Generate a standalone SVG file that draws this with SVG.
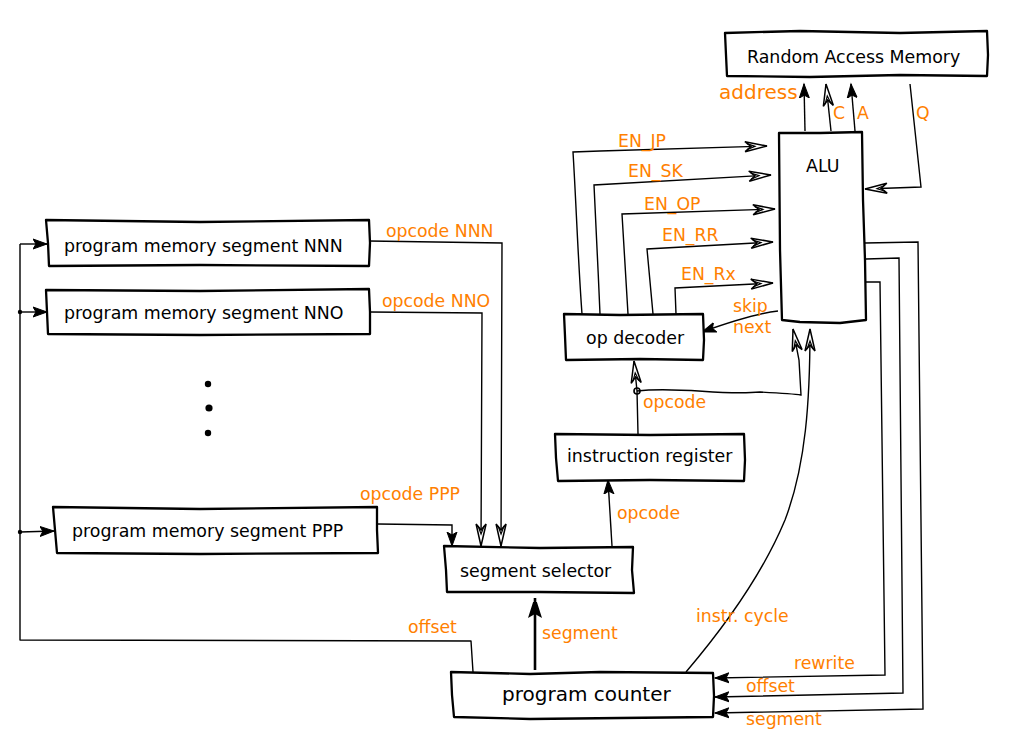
<svg xmlns="http://www.w3.org/2000/svg" width="1024" height="748" viewBox="0 0 1024 748">
<style>
.box{fill:#fff;stroke:#000;stroke-width:2.3;stroke-linejoin:round}
.t{font-family:"DejaVu Sans",sans-serif;font-size:17.4px;fill:#000}
.lbl{font-family:"DejaVu Sans",sans-serif;font-size:17.3px;fill:#ff8000}
.w{fill:none;stroke:#000;stroke-width:1.4;stroke-linejoin:round}
.wf{fill:none;stroke:#000;stroke-width:1.4;marker-end:url(#af)}
.wh{fill:none;stroke:#000;stroke-width:1.4;marker-end:url(#ah)}
</style>
<defs>
<marker id="af" markerUnits="userSpaceOnUse" markerWidth="16" markerHeight="12" refX="14" refY="6" orient="auto">
<path d="M0,1 L14,6 L0,11 L3,6 Z" fill="#000" stroke="#000" stroke-width="1"/>
</marker>
<marker id="ah" markerUnits="userSpaceOnUse" markerWidth="26" markerHeight="14" refX="24" refY="7" orient="auto">
<path d="M2,2 L24,7 L2,12 L8,7 Z" fill="#fff" stroke="#000" stroke-width="1.5"/>
<path d="M4,4 L12,7 L4,10" fill="none" stroke="#000" stroke-width="1.2"/>
</marker>
<marker id="ab" markerUnits="userSpaceOnUse" markerWidth="16" markerHeight="24" refX="20" refY="8" orient="auto">
<path d="M0,1 L22,8 L0,15 L4,8 Z" fill="#000"/>
</marker>
</defs>

<g id="connectors">
<path class="w" d="M473,672 L471,641 L20,640 L20,244"/>
<path class="wf" d="M20,244 L47,244"/>
<path class="wf" d="M20,312 L47,312"/>
<path class="wf" d="M20,532 L54,531"/>
<circle cx="20" cy="312" r="2.2"/>
<circle cx="20" cy="532" r="2.2"/>
<path class="wh" d="M369,241 L502,243 L501,546"/>
<path class="wh" d="M370,312 L482,313 L481,546"/>
<path class="wf" d="M378,524 L452,525 L452,546"/>
<path class="wf" d="M612,546 L608,480"/>
<path d="M535,670 L535,598" fill="none" stroke="#000" stroke-width="2.6" marker-end="url(#ab)"/>
<path class="wh" d="M638,434 L637,391 L634,361"/>
<circle cx="637" cy="391" r="3" fill="none" stroke="#000" stroke-width="1.6"/>
<path class="wh" d="M637,391 C680,386 720,396 760,392 C780,393 795,394 801,395 L799,360 L793,329"/>
<path class="wh" d="M686,672 C720,632 760,580 785,520 C806,465 810,400 810,329"/>
<path class="wf" d="M778,311 C760,313 730,322 702,332"/>
<path class="wh" d="M582,314 C578,260 576,200 573,152 L600,151 L767,146"/>
<path class="wh" d="M600,314 C598,270 596,220 594,185 L771,175"/>
<path class="wh" d="M628,314 L622,214 L775,209"/>
<path class="wh" d="M653,314 L647,249 L773,242"/>
<path class="wh" d="M676,314 L675,288 L773,283"/>
<path class="wf" d="M805,131 L804,84"/>
<path class="wh" d="M831,131 L826,84"/>
<path class="wf" d="M855,131 L851,84"/>
<path class="wh" d="M910,84 L921,187 L865,189"/>
<path class="wf" d="M865,243 L918,242 L923,709 L715,713"/>
<path class="wf" d="M866,259 L899,258 L903,693 L715,697"/>
<path class="wf" d="M866,282 L880,282 L885,675 L715,678"/>
</g>

<g id="ram">
<path class="box" d="M725,33 L800,31 L900,33 L987,31 L988,55 L987,76 L900,75 L810,77 L727,76 L726,55 Z"/>
<text class="t" x="747" y="63">Random Access Memory</text>
</g>
<g id="alu">
<path class="box" d="M779,133 L820,133 L862,132 L863,200 L865,260 L866,320 L840,323 L800,322 L782,320 L780,250 Z"/>
<text class="t" x="806" y="172">ALU</text>
</g>
<g id="opdecoder">
<path class="box" d="M564,314 L620,315 L703,314 L704,340 L703,360 L640,359 L566,360 L565,336 Z"/>
<text class="t" x="586" y="344">op decoder</text>
</g>
<g id="ir">
<path class="box" d="M555,434 L650,435 L744,434 L745,460 L744,481 L650,480 L558,481 L556,458 Z"/>
<text class="t" x="567" y="462">instruction register</text>
</g>
<g id="segsel">
<path class="box" d="M444,546 L540,548 L633,547 L632,570 L634,593 L540,592 L447,592 L446,570 Z"/>
<text class="t" x="460" y="577">segment selector</text>
</g>
<g id="pc">
<path class="box" d="M451,672 L530,674 L600,672 L713,673 L714,696 L713,717 L620,718 L530,719 L454,717 L452,695 Z"/>
<text class="t" x="502" y="701" style="font-size:20px">program counter</text>
</g>
<g id="segNNN">
<path class="box" d="M46,220 L200,222 L369,220 L370,243 L369,266 L200,265 L49,266 L48,243 Z"/>
<text class="t" x="64" y="252">program memory segment NNN</text>
</g>
<g id="segNNO">
<path class="box" d="M46,290 L200,291 L369,289 L370,312 L370,334 L200,335 L48,334 L47,312 Z"/>
<text class="t" x="64" y="319">program memory segment NNO</text>
</g>
<g id="dots">
<circle cx="208" cy="384" r="3.2"/>
<circle cx="209" cy="408" r="3.6"/>
<circle cx="208" cy="433" r="3.2"/>
</g>
<g id="segPPP">
<path class="box" d="M53,507 L200,509 L377,507 L377,530 L378,553 L200,554 L57,553 L55,530 Z"/>
<text class="t" x="72" y="537">program memory segment PPP</text>
</g>

<g id="labels">
<text class="lbl" x="719" y="99" style="font-size:20px">address</text>
<text class="lbl" x="833" y="119">C</text>
<text class="lbl" x="857" y="119">A</text>
<text class="lbl" x="916" y="119">Q</text>
<text class="lbl" x="618" y="147">EN_JP</text>
<text class="lbl" x="628" y="177">EN_SK</text>
<text class="lbl" x="644" y="210">EN_OP</text>
<text class="lbl" x="662" y="241">EN_RR</text>
<text class="lbl" x="681" y="280">EN_Rx</text>
<text class="lbl" x="733" y="312">skip</text>
<text class="lbl" x="733" y="333">next</text>
<text class="lbl" x="643" y="408">opcode</text>
<text class="lbl" x="617" y="519">opcode</text>
<text class="lbl" x="696" y="622">instr. cycle</text>
<text class="lbl" x="542" y="639">segment</text>
<text class="lbl" x="794" y="669">rewrite</text>
<text class="lbl" x="746" y="692">offset</text>
<text class="lbl" x="746" y="725">segment</text>
<text class="lbl" x="386" y="237">opcode NNN</text>
<text class="lbl" x="382" y="307">opcode NNO</text>
<text class="lbl" x="360" y="500">opcode PPP</text>
<text class="lbl" x="408" y="633">offset</text>
</g>
</svg>
